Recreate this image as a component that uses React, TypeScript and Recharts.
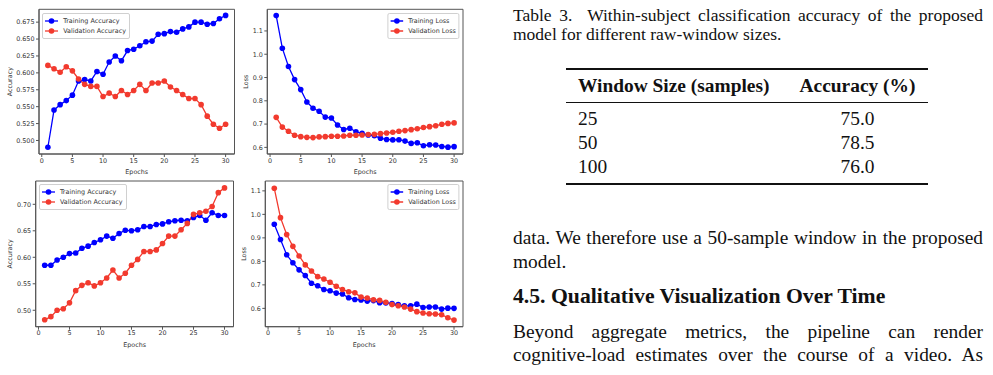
import React from "react";
import { LineChart, Line, XAxis, YAxis, ReferenceArea } from "recharts";

// epochs shared by all four panels
const epochs = [1, 2, 3, 4, 5, 6, 7, 8, 9, 10, 11, 12, 13, 14, 15, 16, 17, 18, 19, 20, 21, 22, 23, 24, 25, 26, 27, 28, 29, 30];
const epochTicks = [0, 5, 10, 15, 20, 25, 30];

// top row
const accTrainTop = [0.490, 0.545, 0.553, 0.559, 0.567, 0.588, 0.590, 0.588, 0.602, 0.598, 0.616, 0.625, 0.618, 0.633, 0.635, 0.640, 0.646, 0.647, 0.657, 0.658, 0.661, 0.660, 0.665, 0.668, 0.675, 0.675, 0.672, 0.673, 0.680, 0.685];
const accValTop = [0.611, 0.606, 0.601, 0.609, 0.603, 0.591, 0.583, 0.580, 0.580, 0.565, 0.570, 0.565, 0.574, 0.568, 0.574, 0.583, 0.574, 0.585, 0.585, 0.588, 0.579, 0.574, 0.568, 0.562, 0.562, 0.553, 0.536, 0.524, 0.518, 0.524];
const lossTrainTop = [1.166, 1.026, 0.947, 0.891, 0.848, 0.795, 0.768, 0.755, 0.730, 0.726, 0.696, 0.677, 0.682, 0.667, 0.660, 0.653, 0.650, 0.639, 0.634, 0.632, 0.633, 0.627, 0.617, 0.620, 0.607, 0.611, 0.610, 0.604, 0.601, 0.603];
const lossValTop = [0.729, 0.687, 0.669, 0.652, 0.646, 0.643, 0.642, 0.645, 0.646, 0.648, 0.648, 0.649, 0.652, 0.652, 0.653, 0.655, 0.656, 0.659, 0.662, 0.665, 0.669, 0.672, 0.676, 0.680, 0.685, 0.689, 0.693, 0.699, 0.703, 0.705];

// bottom row
const accTrainBottom = [0.585, 0.585, 0.595, 0.600, 0.607, 0.608, 0.617, 0.621, 0.628, 0.633, 0.640, 0.636, 0.645, 0.651, 0.650, 0.652, 0.658, 0.658, 0.662, 0.663, 0.667, 0.669, 0.670, 0.669, 0.675, 0.679, 0.670, 0.684, 0.679, 0.679];
const accValBottom = [0.482, 0.488, 0.500, 0.503, 0.514, 0.537, 0.547, 0.552, 0.546, 0.552, 0.561, 0.576, 0.561, 0.570, 0.585, 0.596, 0.611, 0.611, 0.614, 0.626, 0.640, 0.640, 0.652, 0.664, 0.681, 0.684, 0.687, 0.696, 0.722, 0.731];
const lossTrainBottom = [0.958, 0.893, 0.828, 0.794, 0.764, 0.740, 0.707, 0.696, 0.680, 0.675, 0.665, 0.661, 0.645, 0.638, 0.636, 0.631, 0.633, 0.624, 0.623, 0.620, 0.616, 0.611, 0.611, 0.618, 0.604, 0.606, 0.606, 0.597, 0.601, 0.600];
const lossValBottom = [1.111, 0.986, 0.914, 0.864, 0.823, 0.785, 0.759, 0.735, 0.725, 0.711, 0.694, 0.680, 0.671, 0.666, 0.648, 0.644, 0.637, 0.634, 0.626, 0.616, 0.611, 0.606, 0.597, 0.586, 0.580, 0.577, 0.576, 0.573, 0.560, 0.550];

const accTicksTop = [0.5, 0.525, 0.55, 0.575, 0.6, 0.625, 0.65, 0.675];
const accTicksBottom = [0.5, 0.55, 0.6, 0.65, 0.7];
const lossTicks = [0.6, 0.7, 0.8, 0.9, 1.0, 1.1];

// table + text on the right
const captionLines = ["Table 3.\u00a0 Within-subject classification accuracy of the proposed", "model for different raw-window sizes."];
const tableHeader = ["Window Size (samples)", "Accuracy (%)"];
const windowSizes = ["25", "50", "100"];
const accuracies = ["75.0", "78.5", "76.0"];

const BLUE = "#0000ff";
const RED = "#f23a2e";
const INK = "#333";
const FS = 6.4;

type PanelProps = {
  left: number;
  top: number;
  width: number;
  height: number;
  box: { l: number; r: number; t: number; b: number };
  domain: [number, number];
  ticks: number[];
  digits: number;
  yLabel: string;
  yLabelX: number;
  train: number[];
  val: number[];
  names: [string, string];
  legendRight?: boolean;
};

function LegendBox({ names, x, y, right }: { names: [string, string]; x: number; y: number; right?: boolean }) {
  const colors = [BLUE, RED];
  return (
    <div
      style={{
        position: "absolute",
        left: x,
        top: y,
        transform: right ? "translateX(-100%)" : undefined,
        border: "1px solid #d0d0d0",
        borderRadius: 2,
        background: "rgba(255,255,255,0.85)",
        padding: "2px 3px 2px 2px",
        fontFamily: "DejaVu Sans",
        fontSize: FS,
        color: INK,
        lineHeight: "10px",
        whiteSpace: "nowrap",
      }}
    >
      {names.map((n, i) => (
        <div key={n} style={{ display: "flex", alignItems: "center", height: 10 }}>
          <svg width={13} height={8} style={{ marginRight: 5 }}>
            <line x1={0} y1={4} x2={13} y2={4} stroke={colors[i]} strokeWidth={1.3} />
            <circle cx={6.5} cy={4} r={2.8} fill={colors[i]} />
          </svg>
          <span>{n}</span>
        </div>
      ))}
    </div>
  );
}

function Panel(p: PanelProps) {
  const data = epochs.map((e, i) => ({ epoch: e, train: p.train[i], val: p.val[i] }));
  const xAxisH = 26;
  const margin = {
    top: p.box.t - p.top,
    right: p.left + p.width - p.box.r,
    left: 0,
    bottom: p.top + p.height - p.box.b - xAxisH,
  };
  const legendX = p.legendRight ? p.box.r - p.left - 3.2 : p.box.l - p.left + 3.2;
  return (
    <div style={{ position: "absolute", left: p.left, top: p.top, width: p.width, height: p.height }}>
      <LineChart width={p.width} height={p.height} data={data} margin={margin} style={{ fontFamily: "DejaVu Sans" }}>
        <XAxis
          dataKey="epoch"
          type="number"
          domain={[-0.45, 31.45]}
          ticks={epochTicks}
          allowDataOverflow
          height={xAxisH}
          tickSize={3}
          tickMargin={1}
          tick={{ fontSize: FS, fill: INK }}
          axisLine={{ stroke: "#555" }}
          tickLine={{ stroke: "#555" }}
          label={{ value: "Epochs", position: "insideBottom", offset: 6, fontSize: FS, fill: INK }}
        />
        <YAxis
          type="number"
          domain={p.domain}
          ticks={p.ticks}
          allowDataOverflow
          width={p.box.l - p.left}
          tickSize={3}
          tickMargin={1.5}
          tick={{ fontSize: FS, fill: INK }}
          tickFormatter={(v: number) => v.toFixed(p.digits)}
          axisLine={{ stroke: "#555" }}
          tickLine={{ stroke: "#555" }}
          label={{
            value: p.yLabel,
            angle: -90,
            position: "insideLeft",
            offset: p.yLabelX,
            fontSize: FS,
            fill: INK,
            style: { textAnchor: "middle" },
          }}
        />
        <ReferenceArea x1={-0.45} x2={31.45} y1={p.domain[0]} y2={p.domain[1]} fill="none" fillOpacity={0} stroke="#555" strokeWidth={1} />
        <Line
          dataKey="train"
          stroke={BLUE}
          strokeWidth={1.3}
          dot={{ r: 2.8, fill: BLUE, stroke: "none" }}
          activeDot={false}
          isAnimationActive={false}
        />
        <Line
          dataKey="val"
          stroke={RED}
          strokeWidth={1.3}
          dot={{ r: 2.8, fill: RED, stroke: "none" }}
          activeDot={false}
          isAnimationActive={false}
        />
      </LineChart>
      <LegendBox names={p.names} x={legendX} y={p.box.t - p.top + 3.2} right={p.legendRight} />
    </div>
  );
}

const serif = "'Liberation Serif', 'Times New Roman', serif";

function TextLine({ text, top, size, justify, bold, left = 513, width = 470 }: { text: string; top: number; size: number; justify?: boolean; bold?: boolean; left?: number; width?: number }) {
  return (
    <div
      style={{
        position: "absolute",
        left,
        top: top - 0.51 * size,
        width,
        fontFamily: serif,
        fontSize: size,
        lineHeight: `${size}px`,
        fontWeight: bold ? 700 : 400,
        textAlign: justify ? "justify" : "left",
        textAlignLast: justify ? "justify" : "left",
        whiteSpace: "nowrap",
        color: "#111",
      }}
    >
      {text}
    </div>
  );
}

function Rule({ top, thick }: { top: number; thick: number }) {
  return <div style={{ position: "absolute", left: 566, width: 362, top: top - thick / 2, height: thick, background: "#111" }} />;
}

export default function App() {
  const body = 19.4;
  const rowY = [119, 143, 167];
  return (
    <div style={{ position: "absolute", left: 0, top: 0, width: 993, height: 375, overflow: "hidden", background: "#fff" }}>
      <Panel
        left={0} top={0} width={240} height={180}
        box={{ l: 39, r: 234.5, t: 9.3, b: 154 }}
        domain={[0.48, 0.694]} ticks={accTicksTop} digits={3}
        yLabel="Accuracy" yLabelX={9.3}
        train={accTrainTop} val={accValTop}
        names={["Training Accuracy", "Validation Accuracy"]}
      />
      <Panel
        left={230} top={0} width={240} height={180}
        box={{ l: 267.3, r: 463, t: 9.3, b: 154 }}
        domain={[0.5715, 1.193]} ticks={lossTicks} digits={1}
        yLabel="Loss" yLabelX={16}
        train={lossTrainTop} val={lossValTop}
        names={["Training Loss", "Validation Loss"]}
        legendRight
      />
      <Panel
        left={0} top={175} width={240} height={200}
        box={{ l: 35.7, r: 233.5, t: 181, b: 326.7 }}
        domain={[0.469, 0.744]} ticks={accTicksBottom} digits={2}
        yLabel="Accuracy" yLabelX={9.3}
        train={accTrainBottom} val={accValBottom}
        names={["Training Accuracy", "Validation Accuracy"]}
      />
      <Panel
        left={230} top={175} width={240} height={200}
        box={{ l: 265.3, r: 463, t: 181, b: 326.7 }}
        domain={[0.522, 1.142]} ticks={lossTicks} digits={1}
        yLabel="Loss" yLabelX={13.3}
        train={lossTrainBottom} val={lossValBottom}
        names={["Training Loss", "Validation Loss"]}
        legendRight
      />

      <TextLine text={captionLines[0]} top={16} size={17.5} justify />
      <TextLine text={captionLines[1]} top={35} size={17.5} />

      <Rule top={69} thick={1.6} />
      <TextLine text={tableHeader[0]} top={86} size={body} bold left={578} width={200} />
      <div
        style={{
          position: "absolute", left: 798, top: 86 - 0.51 * body, width: 119, textAlign: "center",
          fontFamily: serif, fontSize: body, lineHeight: `${body}px`, fontWeight: 700, whiteSpace: "nowrap", color: "#111",
        }}
      >
        {tableHeader[1]}
      </div>
      <Rule top={102} thick={1} />
      {windowSizes.map((w, i) => (
        <React.Fragment key={w}>
          <TextLine text={w} top={rowY[i]} size={body} left={578} width={100} />
          <div
            style={{
              position: "absolute", left: 798, top: rowY[i] - 0.51 * body, width: 119, textAlign: "center",
              fontFamily: serif, fontSize: body, lineHeight: `${body}px`, color: "#111",
            }}
          >
            {accuracies[i]}
          </div>
        </React.Fragment>
      ))}
      <Rule top={184} thick={1.6} />

      <TextLine text="data. We therefore use a 50-sample window in the proposed" top={238} size={body} justify />
      <TextLine text="model." top={262} size={body} />
      <TextLine text="4.5. Qualitative Visualization Over Time" top={297} size={21.7} bold />
      <TextLine text="Beyond aggregate metrics, the pipeline can render" top={332} size={body} justify />
      <TextLine text="cognitive-load estimates over the course of a video.  As" top={355} size={body} justify />
    </div>
  );
}
